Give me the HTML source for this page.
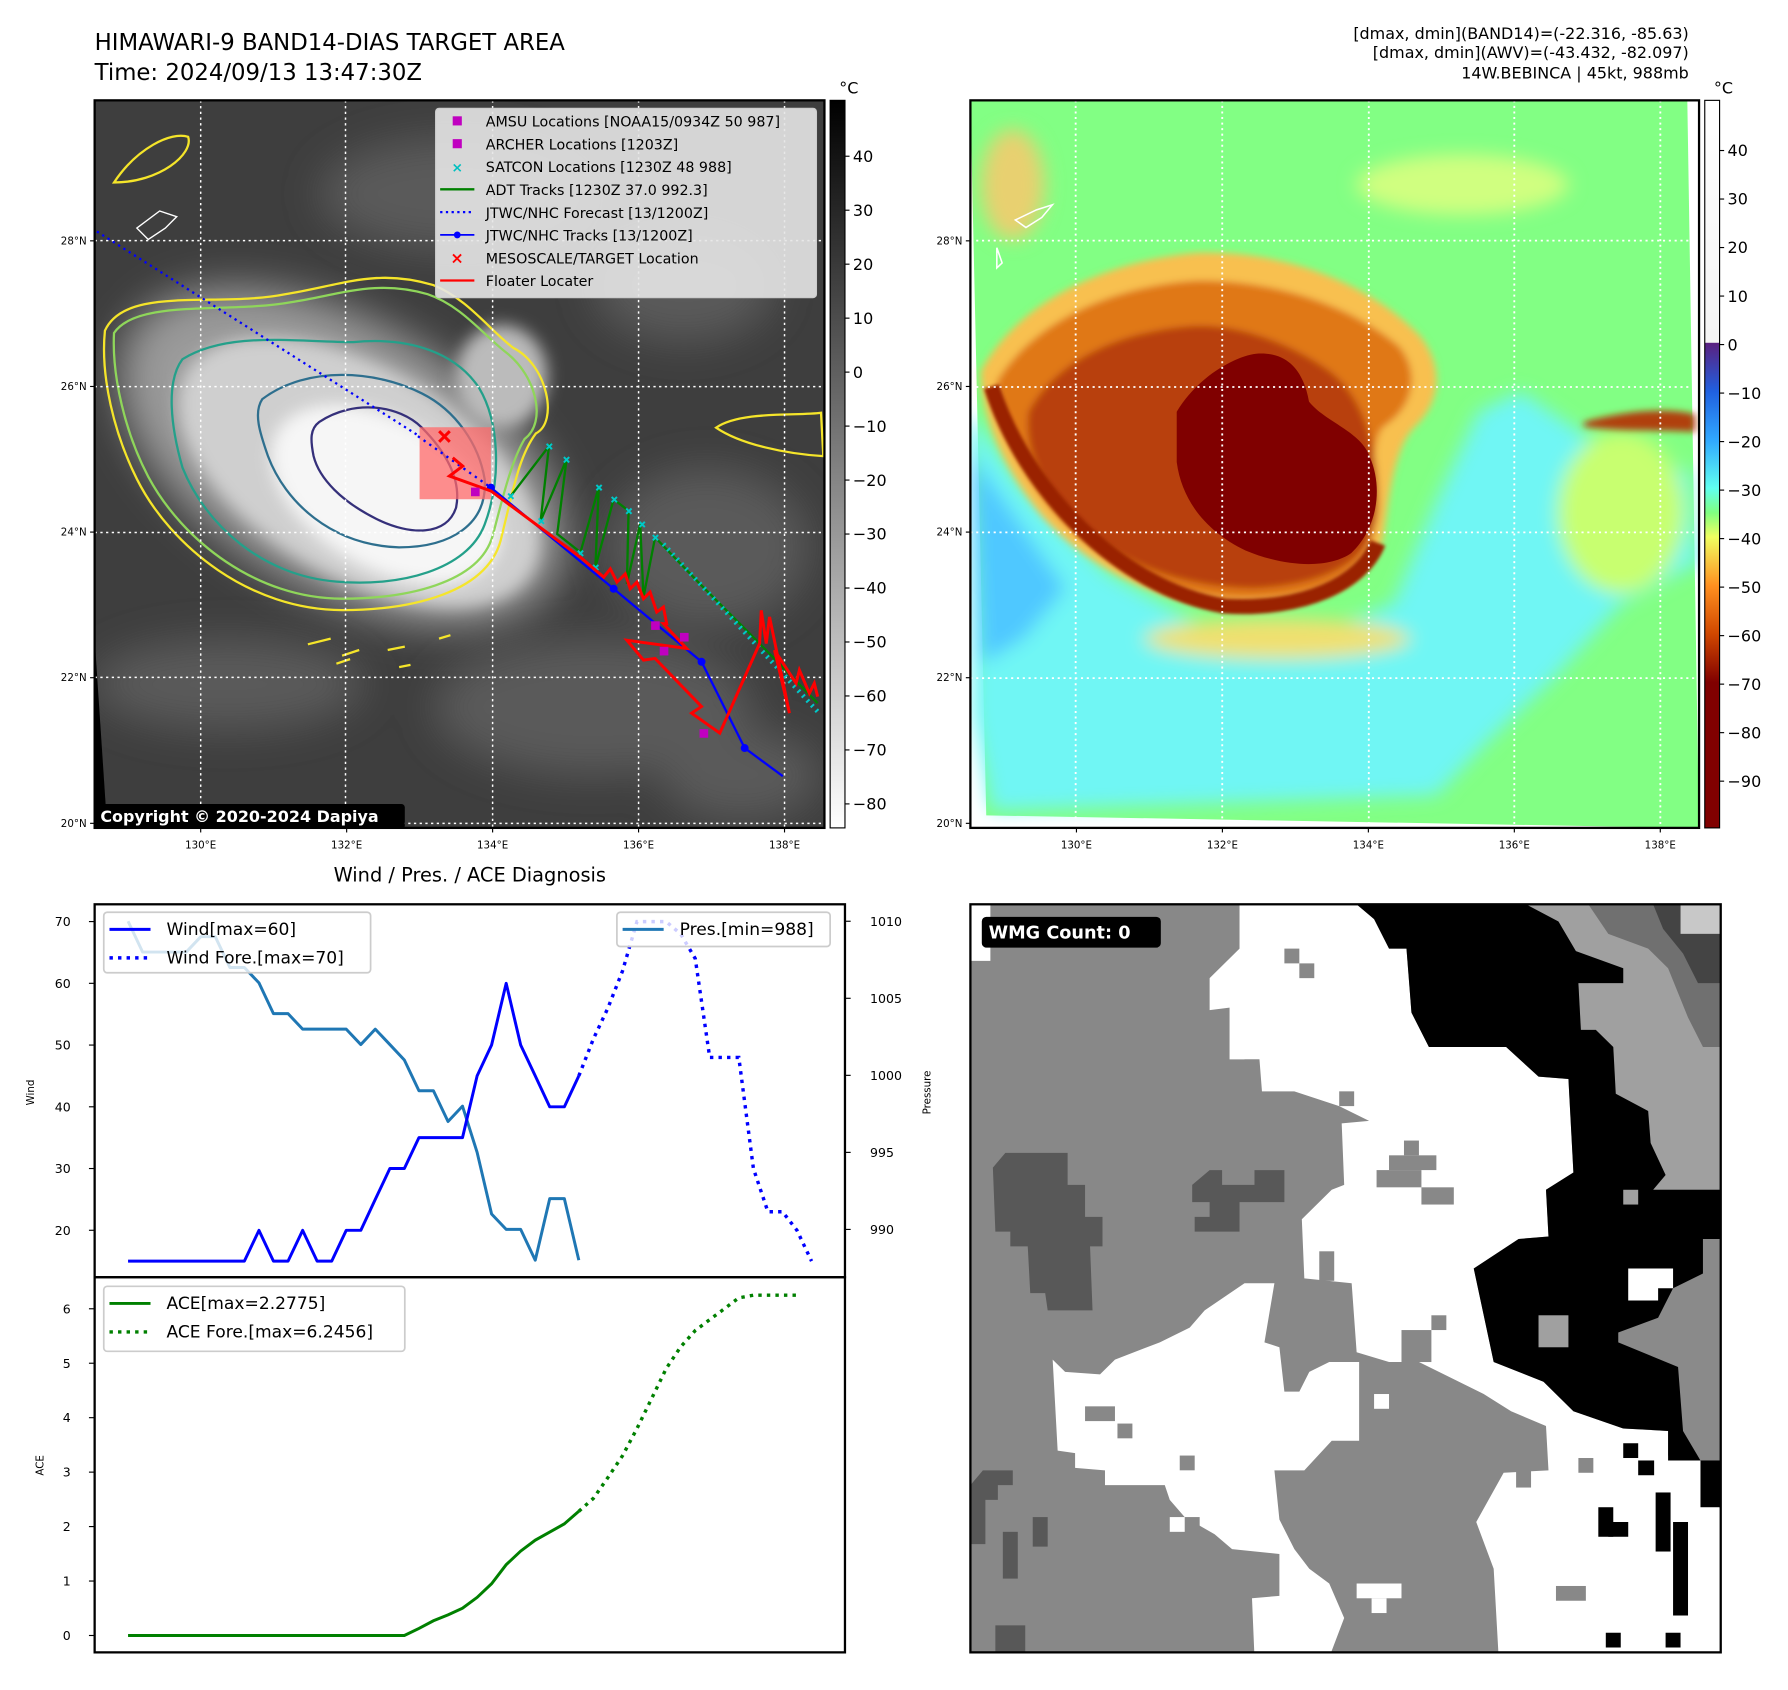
<!DOCTYPE html>
<html><head><meta charset="utf-8"><style>
html,body{margin:0;padding:0;background:#fff;}
svg{display:block;font-family:"DejaVu Sans","Liberation Sans",sans-serif;}
</style></head><body>
<svg id="root" width="1788" height="1690" viewBox="0 0 1568 1482" preserveAspectRatio="none" xmlns="http://www.w3.org/2000/svg">
<defs>
 <filter id="b20" x="-50%" y="-50%" width="200%" height="200%"><feGaussianBlur stdDeviation="18"/></filter>
 <filter id="b8" x="-50%" y="-50%" width="200%" height="200%"><feGaussianBlur stdDeviation="7"/></filter>
 <filter id="b4" x="-50%" y="-50%" width="200%" height="200%"><feGaussianBlur stdDeviation="3"/></filter>
 <linearGradient id="cb1" x1="0" y1="0" x2="0" y2="1"><stop offset="0" stop-color="#000"/><stop offset="1" stop-color="#fff"/></linearGradient>
 <linearGradient id="cb2" x1="0" y1="0" x2="0" y2="1">
  <stop offset="0" stop-color="#fff"/><stop offset="0.333" stop-color="#f4f4f4"/>
  <stop offset="0.3334" stop-color="#5a2080"/><stop offset="0.4" stop-color="#2060e0"/>
  <stop offset="0.467" stop-color="#30a8ff"/><stop offset="0.533" stop-color="#60fff0"/>
  <stop offset="0.567" stop-color="#80ff80"/><stop offset="0.6" stop-color="#f0ff60"/>
  <stop offset="0.667" stop-color="#ff9020"/><stop offset="0.733" stop-color="#d04800"/>
  <stop offset="0.8" stop-color="#800000"/><stop offset="1" stop-color="#800000"/>
 </linearGradient>
 <clipPath id="c1"><rect x="83" y="88" width="640" height="638"/></clipPath>
 <clipPath id="c2"><rect x="851" y="88" width="639" height="638"/></clipPath>
 <clipPath id="c3"><rect x="851" y="793" width="658" height="656"/></clipPath>
</defs>

<!-- titles -->
<text x="83" y="44" font-size="20" fill="#000">HIMAWARI-9 BAND14-DIAS TARGET AREA</text>
<text x="83" y="70" font-size="20" fill="#000">Time: 2024/09/13 13:47:30Z</text>
<g font-size="14" text-anchor="end" fill="#000">
 <text x="1481" y="34">[dmax, dmin](BAND14)=(-22.316, -85.63)</text>
 <text x="1481" y="51">[dmax, dmin](AWV)=(-43.432, -82.097)</text>
 <text x="1481" y="69">14W.BEBINCA | 45kt, 988mb</text>
</g>

<!-- LEFT MAP -->
<g clip-path="url(#c1)">
 <rect x="83" y="88" width="640" height="638" fill="#3e3e3e"/>
 <g filter="url(#b20)" fill="#5a5a5a">
  <ellipse cx="520" cy="620" rx="140" ry="60"/><ellipse cx="620" cy="480" rx="90" ry="70"/>
  <ellipse cx="200" cy="600" rx="120" ry="40"/><ellipse cx="400" cy="170" rx="120" ry="50"/>
  <ellipse cx="600" cy="250" rx="80" ry="50"/><ellipse cx="650" cy="680" rx="70" ry="40"/>
 </g>
 <g transform="rotate(30 300 400)">
  <ellipse cx="300" cy="400" rx="215" ry="118" fill="#9a9a9a" filter="url(#b20)"/>
  <ellipse cx="320" cy="405" rx="175" ry="92" fill="#cfcfcf" filter="url(#b8)"/>
  <ellipse cx="350" cy="410" rx="110" ry="65" fill="#f6f6f6" filter="url(#b8)"/>
 </g>
 <ellipse cx="440" cy="330" rx="40" ry="45" fill="#bbb" filter="url(#b8)"/>
 <g fill="none" stroke-width="2">
  <path d="M92,290 C110,250 190,270 250,258 C300,250 330,235 380,250 C410,262 430,290 450,305 C480,320 490,370 470,380 C455,400 450,430 440,470 C430,520 360,535 300,535 C220,535 150,480 120,420 C100,380 88,330 92,290 Z" stroke="#f5e52a"/>
  <path d="M100,292 C120,262 200,275 255,265 C300,258 330,245 375,258 C405,268 425,295 445,310 C470,330 480,370 460,385 C448,405 440,440 432,470 C420,512 355,525 300,525 C225,525 160,474 130,418 C110,380 98,330 100,292 Z" stroke="#8fd65a"/>
  <path d="M160,315 C200,290 260,300 310,300 C360,295 400,310 420,340 C438,370 440,420 425,460 C410,500 350,515 295,510 C230,505 180,460 160,410 C150,375 145,335 160,315 Z" stroke="#24a08a"/>
  <path d="M230,350 C270,320 330,325 370,345 C400,360 420,390 425,420 C428,460 395,480 350,480 C290,478 250,440 235,400 C228,380 222,362 230,350 Z" stroke="#2e6f8e"/>
  <path d="M280,370 C310,350 350,355 370,375 C390,395 405,420 400,445 C392,470 360,470 330,455 C300,440 280,420 275,400 C272,385 272,376 280,370 Z" stroke="#35307a"/>
  <path d="M628,375 C650,360 700,365 720,362 L722,400 C690,398 650,390 628,375 Z" stroke="#f5e52a"/>
  <path d="M100,160 C120,130 150,115 165,120 C170,135 140,160 100,160 Z" stroke="#f5e52a"/>
  <path d="M270,565 l20,-5 M300,575 l15,-5 M340,570 l15,-3 M385,560 l10,-3 M350,585 l10,-2 M295,582 l12,-4" stroke="#f5e52a"/>
  <path d="M120,200 l20,-15 l15,5 l-10,10 l-15,10 Z" stroke="#fff" stroke-width="1.2"/>
 </g>
 <polygon points="83,560 94,726 83,726" fill="#000"/>
 <g stroke="#fff" stroke-width="1.3" stroke-dasharray="2,3" fill="none">
  <line x1="176" y1="88" x2="176" y2="726"/><line x1="303" y1="88" x2="303" y2="726"/><line x1="432" y1="88" x2="432" y2="726"/><line x1="560" y1="88" x2="560" y2="726"/><line x1="688" y1="88" x2="688" y2="726"/>
  <line x1="83" y1="211" x2="723" y2="211"/><line x1="83" y1="339" x2="723" y2="339"/><line x1="83" y1="467" x2="723" y2="467"/><line x1="83" y1="594" x2="723" y2="594"/><line x1="83" y1="722" x2="723" y2="722"/>
 </g>
 <line x1="85" y1="203" x2="367" y2="382" stroke="#00f" stroke-width="2" stroke-dasharray="2,3.5"/>
 <g transform="translate(366.5,331.6) scale(0.2909)">
  <rect x="5" y="148" width="215" height="217" fill="#ff6a6a" opacity="0.75"/>
  <polyline points="0,175 220,330" fill="none" stroke="#00f" stroke-width="7" stroke-dasharray="7,14"/>
  <polyline points="280,355 395,205 370,430 448,245 420,470 490,525 545,330 535,570 590,365 635,400 630,620 670,440 680,660 715,480 850,620 1030,800 1205,980" fill="none" stroke="#008000" stroke-width="7"/>
  <g stroke="#00c8c8" stroke-width="6">
   <path d="M388,198l16,16M404,198l-16,16 M440,238l16,16M456,238l-16,16 M364,423l16,16M380,423l-16,16 M538,322l16,16M554,322l-16,16 M584,358l16,16M600,358l-16,16 M628,393l16,16M644,393l-16,16 M528,563l16,16M544,563l-16,16 M668,433l16,16M684,433l-16,16 M708,473l16,16M724,473l-16,16 M272,348l16,16M288,348l-16,16 M482,520l16,16M498,520l-16,16"/>
   <path d="M740,500 L1205,1005" stroke-dasharray="6,14" stroke-width="14"/>
  </g>
  <polyline points="220,330 590,635 855,855 985,1115 1100,1200" fill="none" stroke="#00f" stroke-width="7"/>
  <g fill="#00f"><circle cx="220" cy="330" r="12"/><circle cx="590" cy="635" r="12"/><circle cx="855" cy="855" r="12"/><circle cx="985" cy="1115" r="12"/></g>
  <polyline points="105,240 135,265 95,295 220,340 490,540 560,600 580,575 600,615 625,590 640,635 660,615 680,665 700,645 720,705 740,690 750,740 740,740 810,815 630,790 680,850 715,845 855,990 825,1010 910,1070 1030,800 1035,700 1050,800 1060,720 1120,1010 1075,820 1140,920 1150,880 1180,950 1195,920 1205,960" fill="none" stroke="#f00" stroke-width="9"/>
  <g fill="#c000c0"><rect x="160" y="330" width="26" height="26"/><rect x="703" y="733" width="26" height="26"/><rect x="790" y="768" width="26" height="26"/><rect x="729" y="810" width="26" height="26"/><rect x="849" y="1058" width="26" height="26"/></g>
  <path d="M64,160 l32,32 M96,160 l-32,32" stroke="#f00" stroke-width="9"/>
 </g>
</g>
<rect x="83" y="88" width="640" height="638" fill="none" stroke="#000" stroke-width="2"/>
<g>
 <rect x="83" y="705" width="272" height="22" rx="3" fill="#000"/>
 <text x="88" y="721" font-size="14" font-weight="bold" fill="#fff">Copyright © 2020-2024 Dapiya</text>
</g>
<!-- legend -->
<g font-size="12.5" fill="#000">
 <rect x="382" y="95" width="334" height="166" rx="3" fill="#e6e6e6" fill-opacity="0.9" stroke="#ccc"/>
 <rect x="397" y="102" width="8" height="8" fill="#c000c0"/><text x="426" y="111">AMSU Locations [NOAA15/0934Z 50 987]</text>
 <rect x="397" y="122" width="8" height="8" fill="#c000c0"/><text x="426" y="131">ARCHER Locations [1203Z]</text>
 <text x="396" y="151" fill="#00c0c0" font-size="12" font-weight="bold">×</text><text x="426" y="151">SATCON Locations [1230Z 48 988]</text>
 <line x1="386" y1="166" x2="416" y2="166" stroke="#008000" stroke-width="2"/><text x="426" y="171">ADT Tracks [1230Z 37.0 992.3]</text>
 <line x1="386" y1="186" x2="416" y2="186" stroke="#00f" stroke-width="2" stroke-dasharray="2,3"/><text x="426" y="191">JTWC/NHC Forecast [13/1200Z]</text>
 <line x1="386" y1="206" x2="416" y2="206" stroke="#00f" stroke-width="1.5"/><circle cx="401" cy="206" r="3" fill="#00f"/><text x="426" y="211">JTWC/NHC Tracks [13/1200Z]</text>
 <text x="395" y="231" fill="#f00" font-size="14" font-weight="bold">×</text><text x="426" y="231">MESOSCALE/TARGET Location</text>
 <line x1="386" y1="246" x2="416" y2="246" stroke="#f00" stroke-width="2"/><text x="426" y="251">Floater Locater</text>
</g>
<!-- colorbar 1 -->
<g font-size="14" fill="#000">
 <rect x="728" y="88" width="13" height="638" fill="url(#cb1)" stroke="#000"/>
 <text x="736" y="82">°C</text>
 <g id="cb1t"></g>
</g>
<g font-size="9" fill="#000" id="map1t"></g>

<!-- RIGHT MAP -->
<g clip-path="url(#c2)">
 <rect x="851" y="88" width="639" height="638" fill="#fff"/>
 <g transform="translate(841.7,51.3) scale(0.464,0.4425)">
  <polygon points="20,83 1375,83 1397,1525 50,1500" fill="#82ff84"/>
  <g filter="url(#b20)">
   <polygon points="20,700 120,850 280,1020 450,1120 650,1150 820,1080 900,880 980,700 1060,660 1200,760 1380,820 1395,1000 1250,1080 1120,1230 1000,1350 900,1460 60,1490 25,1300" fill="#6ff6f4"/>
   <polygon points="20,780 100,900 200,1050 120,1150 40,1200" fill="#50c8ff"/>
   <ellipse cx="950" cy="250" rx="200" ry="60" fill="#d0ff80"/>
   <ellipse cx="1250" cy="900" rx="120" ry="160" fill="#c8ff70"/>
   <ellipse cx="600" cy="1150" rx="250" ry="40" fill="#f0e070"/>
   <ellipse cx="100" cy="250" rx="60" ry="110" fill="#e8d070"/>
  </g>
  <g filter="url(#b8)">
   <path d="M40,620 C110,480 280,400 450,385 C620,380 780,450 870,550 C915,610 910,680 860,730 C820,770 810,880 800,950 C780,1030 700,1085 540,1090 C380,1090 230,1000 150,900 C90,820 40,720 40,620 Z" fill="#f8c050"/>
   <path d="M70,640 C140,520 290,450 450,440 C600,440 740,490 830,570 C870,620 860,690 800,730 C770,770 790,880 780,950 C760,1020 690,1070 540,1070 C390,1070 250,990 170,890 C110,810 70,720 70,640 Z" fill="#e07818"/>
   <path d="M130,700 C180,600 300,540 440,530 C520,525 620,560 700,620 C760,670 790,760 790,880 C790,980 720,1040 560,1050 C420,1050 300,1000 220,920 C160,860 120,780 130,700 Z" fill="#b84010"/>
   <path d="M1180,720 C1250,700 1330,690 1390,705 L1390,740 C1320,735 1250,740 1180,730 Z" fill="#b04010"/>
  </g>
  <path d="M60,650 C120,850 300,1050 500,1085 C650,1095 760,1040 790,960" fill="none" stroke="#9a2400" stroke-width="30" filter="url(#b4)"/>
  <path d="M410,700 C450,630 520,590 560,585 C620,580 650,620 660,680 C690,720 760,740 775,790 C800,850 790,930 740,980 C700,1010 620,1010 540,975 C470,940 420,880 410,800 Z" fill="#800000"/>
  <g stroke="#fff" stroke-width="3.5" stroke-dasharray="4,7">
   <line x1="219" y1="83" x2="219" y2="1525"/><line x1="496" y1="83" x2="496" y2="1525"/><line x1="773" y1="83" x2="773" y2="1525"/><line x1="1048" y1="83" x2="1048" y2="1525"/><line x1="1324" y1="83" x2="1324" y2="1525"/>
   <line x1="20" y1="361" x2="1397" y2="361"/><line x1="20" y1="651" x2="1397" y2="651"/><line x1="20" y1="939" x2="1397" y2="939"/><line x1="20" y1="1228" x2="1397" y2="1228"/>
  </g>
  <path d="M105,320 l40,-20 l30,-10 l-20,25 l-30,20 Z M70,375 l10,30 l-10,10 Z" fill="none" stroke="#fff" stroke-width="3"/>
 </g>
</g>
<rect x="851" y="88" width="639" height="638" fill="none" stroke="#000" stroke-width="2"/>
<g font-size="14" fill="#000">
 <rect x="1495" y="88" width="13" height="638" fill="url(#cb2)" stroke="#000"/>
 <text x="1503" y="82">°C</text>
 <g id="cb2t"></g>
</g>
<g font-size="9" fill="#000" id="map2t"></g>

<!-- CHARTS -->
<text x="412" y="773" font-size="17" text-anchor="middle" fill="#000">Wind / Pres. / ACE Diagnosis</text>
<g id="wind-panel"></g>
<g id="ace-panel"></g>

<!-- WMG panel -->
<g clip-path="url(#c3)">
 <rect x="851" y="793" width="658" height="656" fill="#888"/>
 <g transform="translate(842.3,788.7) scale(0.437,0.4316)">
  <polygon points="500,160 560,100 560,10 795,10 830,40 860,100 895,100 905,230 940,300 1095,300 1160,360 1220,365 1230,555 1175,590 1180,685 1120,690 1030,750 1070,940 1170,980 1230,1040 1330,1075 1420,1080 1420,1130 1485,1140 1525,1240 1525,1540 1080,1540 1070,1360 1035,1265 1090,1165 1180,1160 1175,1070 1105,1040 1050,1005 980,970 920,940 860,940 795,920 785,780 690,770 685,650 745,590 770,580 765,455 820,450 760,420 670,390 605,390 600,325 540,325 540,220 500,225" fill="#fff"/>
  <polygon points="185,935 210,960 280,965 310,935 400,900 460,870 490,835 570,780 630,780 610,900 640,910 650,1000 680,1000 700,960 740,940 800,940 800,1100 745,1100 690,1160 630,1160 640,1260 670,1320 700,1360 740,1390 770,1460 740,1540 590,1540 585,1420 640,1415 640,1330 545,1320 510,1290 450,1255 420,1220 410,1190 290,1190 290,1160 230,1155 230,1125 195,1120" fill="#fff"/>
  <polygon points="20,10 60,10 60,125 20,125 M 20,670 45,670 45,770 20,770" fill="#fff"/>
  <polygon points="1135,10 1525,10 1525,590 1390,590 1415,560 1385,495 1380,430 1315,395 1310,300 1275,265 1245,265 1240,170 1330,170 1330,140 1235,105 1200,45" fill="#a0a0a0"/>
  <polygon points="1260,10 1440,10 1525,40 1525,300 1490,300 1460,240 1420,140 1380,100 1300,70" fill="#707070"/>
  <polygon points="1390,10 1525,10 1525,170 1480,170 1450,110 1410,60" fill="#444"/>
  <rect x="1445" y="10" width="80" height="60" fill="#c8c8c8"/>
  <polygon points="795,10 1135,10 1200,45 1235,105 1330,140 1330,170 1240,170 1245,265 1275,265 1310,300 1315,395 1380,430 1385,495 1415,560 1390,590 1525,590 1525,690 1490,690 1490,1140 1420,1140 1420,1080 1330,1075 1230,1040 1170,980 1070,940 1030,750 1120,690 1180,685 1175,590 1230,555 1220,365 1160,360 1095,300 940,300 905,230 895,100 860,100 830,40" fill="#000"/>
  <polygon points="1490,690 1525,690 1525,1140 1485,1140 1450,1080 1440,950 1320,900 1320,880 1400,850 1430,790 1490,760" fill="#8a8a8a"/>
  <polygon points="1340,750 1430,750 1430,790 1400,790 1400,815 1340,815" fill="#fff"/>
  <rect x="1160" y="845" width="60" height="65" fill="#a0a0a0"/><rect x="1330" y="590" width="30" height="30" fill="#a0a0a0"/>
  <g fill="#000"><rect x="1330" y="1105" width="30" height="30"/><rect x="1360" y="1140" width="32" height="30"/><rect x="1485" y="1140" width="40" height="95"/><rect x="1280" y="1235" width="30" height="60"/><rect x="1300" y="1265" width="40" height="30"/><rect x="1395" y="1205" width="30" height="120"/><rect x="1430" y="1265" width="30" height="190"/><rect x="1295" y="1490" width="30" height="30"/><rect x="1415" y="1490" width="30" height="30"/></g>
  <rect x="1195" y="1395" width="60" height="30" fill="#888"/><rect x="1240" y="1135" width="30" height="30" fill="#888"/>
  <g fill="#585858">
   <polygon points="65,545 90,515 215,515 215,580 250,580 250,645 285,645 285,705 260,705 265,835 175,835 170,800 140,800 135,705 100,705 100,675 70,675"/>
   <polygon points="465,580 500,550 525,550 525,580 590,580 590,550 650,550 650,615 560,615 560,675 470,675 470,645 500,645 500,615 465,615"/>
   <polygon points="20,1190 45,1160 105,1160 105,1190 75,1190 75,1220 50,1220 50,1310 20,1310"/>
   <rect x="85" y="1285" width="30" height="95"/><rect x="145" y="1255" width="30" height="60"/><rect x="70" y="1475" width="60" height="60"/>
  </g>
  <g fill="#888"><rect x="650" y="100" width="30" height="30"/><rect x="680" y="130" width="30" height="30"/><rect x="570" y="325" width="30" height="60"/><rect x="760" y="390" width="30" height="30"/><rect x="890" y="490" width="30" height="30"/><rect x="860" y="520" width="95" height="30"/><rect x="835" y="550" width="90" height="35"/><rect x="925" y="585" width="65" height="35"/><rect x="720" y="715" width="30" height="60"/><rect x="945" y="845" width="30" height="30"/><rect x="885" y="875" width="60" height="65"/><rect x="250" y="1030" width="60" height="30"/><rect x="315" y="1065" width="30" height="30"/><rect x="440" y="1130" width="30" height="30"/><rect x="450" y="1255" width="30" height="35"/><rect x="1115" y="1160" width="30" height="35"/></g>
  <g fill="#fff"><rect x="830" y="1005" width="30" height="30"/><rect x="420" y="1255" width="30" height="30"/><rect x="795" y="1390" width="90" height="30"/><rect x="825" y="1420" width="30" height="30"/></g>
 </g>
</g>
<rect x="851" y="793" width="658" height="656" fill="none" stroke="#000" stroke-width="2"/>
<g>
 <rect x="861" y="804" width="157" height="27" rx="4" fill="#000"/>
 <text x="867" y="823" font-size="15.5" font-weight="bold" fill="#fff">WMG Count: 0</text>
</g>
<text x="816" y="958" font-size="9" transform="rotate(-90 816 958)" text-anchor="middle" fill="#000">Pressure</text>

<script>
// ---- chart data ----
const windObs = [15,15,15,15,15,15,15,15,15,20,15,15,20,15,15,20,20,25,30,30,35,35,35,35,45,50,60,50,45,40,40,45];
const windFcst = [45,51,56,62,70,70,70,68,64,48,48,48,30,23,23,20,15];
const presObs = [1010,1008,1008,1008,1008,1009,1009,1007,1007,1006,1004,1004,1003,1003,1003,1003,1002,1003,1002,1001,999,999,997,998,995,991,990,990,988,992,992,988];
const aceObs = [0,0,0,0,0,0,0,0,0,0,0,0,0,0,0,0,0,0,0,0,0.13,0.27,0.38,0.5,0.7,0.95,1.3,1.55,1.75,1.9,2.05,2.28];
const aceFcst = [2.28,2.52,2.9,3.3,3.8,4.35,4.9,5.3,5.6,5.8,6.0,6.2,6.25,6.25,6.25,6.25];
const windTicks = [20,30,40,50,60,70];
const presTicks = [990,995,1000,1005,1010];
const aceTicks = [0,1,2,3,4,5,6];
const latTicks = ["20°N","22°N","24°N","26°N","28°N"];
const lonTicks = ["130°E","132°E","134°E","136°E","138°E"];
const cb1Ticks = [40,30,20,10,0,-10,-20,-30,-40,-50,-60,-70,-80];
const cb2Ticks = [40,30,20,10,0,-10,-20,-30,-40,-50,-60,-70,-80,-90];

const NS="http://www.w3.org/2000/svg";
function mk(tag,attrs,parent){const e=document.createElementNS(NS,tag);for(const k in attrs)e.setAttribute(k,attrs[k]);parent.appendChild(e);return e;}
const L=83,R=741,T1=793,M=1120,B=1449;
const xS=i=>L+(i+2.3)/(49.3+2.3)*(R-L);
const wS=v=>M-(v-12.4)/(72.8-12.4)*(M-T1);
const pS=v=>M-(v-986.9)/(1011.1-986.9)*(M-T1);
const aS=v=>B-(v+0.31)/(6.58+0.31)*(B-M);
function pts(arr,off,ys){return arr.map((v,i)=>xS(i+off).toFixed(1)+","+ys(v).toFixed(1)).join(" ");}

const wp=document.getElementById('wind-panel');
const ap=document.getElementById('ace-panel');
let e;
e=mk('polyline',{points:pts(presObs,0,pS),fill:'none',stroke:'#1f77b4','stroke-width':2.6,'stroke-linejoin':'round'},wp);


e=mk('polyline',{points:pts(windObs,0,wS),fill:'none',stroke:'#0000ff','stroke-width':2.6,'stroke-linejoin':'round'},wp);


e=mk('polyline',{points:pts(windFcst,windObs.length-1,wS),fill:'none',stroke:'#0000ff','stroke-width':3,'stroke-dasharray':'3,4.5'},wp);


mk('rect',{x:L,y:T1,width:R-L,height:M-T1,fill:'none',stroke:'#000','stroke-width':2},wp);
windTicks.forEach(v=>{const y=wS(v);mk('line',{x1:L-5,x2:L,y1:y,y2:y,stroke:'#000'},wp);
 e=mk('text',{x:L-21,y:y+4,'font-size':11,'text-anchor':'end'},wp);e.textContent=v;
 
 });
presTicks.forEach(v=>{const y=pS(v);mk('line',{x1:R,x2:R+5,y1:y,y2:y,stroke:'#000'},wp);
 e=mk('text',{x:R+22,y:y+4,'font-size':11},wp);e.textContent=v;
 
 });
e=mk('text',{x:30,y:958,'font-size':9,'text-anchor':'middle',transform:'rotate(-90 30 958)'},wp);e.textContent='Wind';


let lg=mk('g',{},wp);


mk('rect',{x:91,y:800,width:234,height:53,rx:3,fill:'#fff','fill-opacity':0.8,stroke:'#ccc','stroke-width':1.5},lg);
mk('line',{x1:96,x2:132,y1:815,y2:815,stroke:'#00f','stroke-width':2.6},lg);
mk('line',{x1:96,x2:132,y1:840,y2:840,stroke:'#00f','stroke-width':3,'stroke-dasharray':'3,4.5'},lg);
e=mk('text',{x:146,y:820,'font-size':15},lg);e.textContent='Wind[max=60]';
e=mk('text',{x:146,y:845,'font-size':15},lg);e.textContent='Wind Fore.[max=70]';
lg=mk('g',{},wp);


mk('rect',{x:541,y:800,width:187,height:30,rx:3,fill:'#fff','fill-opacity':0.8,stroke:'#ccc','stroke-width':1.5},lg);
mk('line',{x1:546,x2:582,y1:815,y2:815,stroke:'#1f77b4','stroke-width':2.6},lg);
e=mk('text',{x:596,y:820,'font-size':15},lg);e.textContent='Pres.[min=988]';

e=mk('polyline',{points:pts(aceObs,0,aS),fill:'none',stroke:'#008000','stroke-width':2.6},ap);


e=mk('polyline',{points:pts(aceFcst,aceObs.length-1,aS),fill:'none',stroke:'#008000','stroke-width':3,'stroke-dasharray':'3,4.5'},ap);


mk('rect',{x:L,y:M,width:R-L,height:B-M,fill:'none',stroke:'#000','stroke-width':2},ap);
aceTicks.forEach(v=>{const y=aS(v);mk('line',{x1:L-5,x2:L,y1:y,y2:y,stroke:'#000'},ap);
 e=mk('text',{x:L-21,y:y+4,'font-size':11,'text-anchor':'end'},ap);e.textContent=v;
 
 });
e=mk('text',{x:38,y:1285,'font-size':9,'text-anchor':'middle',transform:'rotate(-90 38 1285)'},ap);e.textContent='ACE';


lg=mk('g',{},ap);


mk('rect',{x:91,y:1128,width:264,height:57,rx:3,fill:'#fff','fill-opacity':0.8,stroke:'#ccc','stroke-width':1.5},lg);
mk('line',{x1:96,x2:132,y1:1143,y2:1143,stroke:'#008000','stroke-width':2.6},lg);
mk('line',{x1:96,x2:132,y1:1168,y2:1168,stroke:'#008000','stroke-width':3,'stroke-dasharray':'3,4.5'},lg);
e=mk('text',{x:146,y:1148,'font-size':15},lg);e.textContent='ACE[max=2.2775]';
e=mk('text',{x:146,y:1173,'font-size':15},lg);e.textContent='ACE Fore.[max=6.2456]';

function mapTicks(id,x0,x1){const g=document.getElementById(id);
 latTicks.forEach((t,i)=>{const y=722-i*127.7;mk('line',{x1:x0-4,x2:x0,y1:y,y2:y,stroke:'#000'},g);
  e=mk('text',{x:x0-7,y:y+3,'text-anchor':'end'},g);e.textContent=t;});
 lonTicks.forEach((t,i)=>{const x=x1+i*128;mk('line',{x1:x,x2:x,y1:726,y2:730,stroke:'#000'},g);
  e=mk('text',{x:x,y:744,'text-anchor':'middle'},g);e.textContent=t;});}
mapTicks('map1t',83,176);
mapTicks('map2t',851,944);
const g1=document.getElementById('cb1t');
cb1Ticks.forEach(v=>{const y=137+(40-v)*4.733;mk('line',{x1:741,x2:745,y1:y,y2:y,stroke:'#000'},g1);
 e=mk('text',{x:748,y:y+5},g1);e.textContent=(v<0?'\u2212'+(-v):v);});
const g2=document.getElementById('cb2t');
cb2Ticks.forEach(v=>{const y=132+(40-v)*4.254;mk('line',{x1:1508,x2:1512,y1:y,y2:y,stroke:'#000'},g2);
 e=mk('text',{x:1515,y:y+5},g2);e.textContent=(v<0?'\u2212'+(-v):v);});
</script>
</svg>
</body></html>
